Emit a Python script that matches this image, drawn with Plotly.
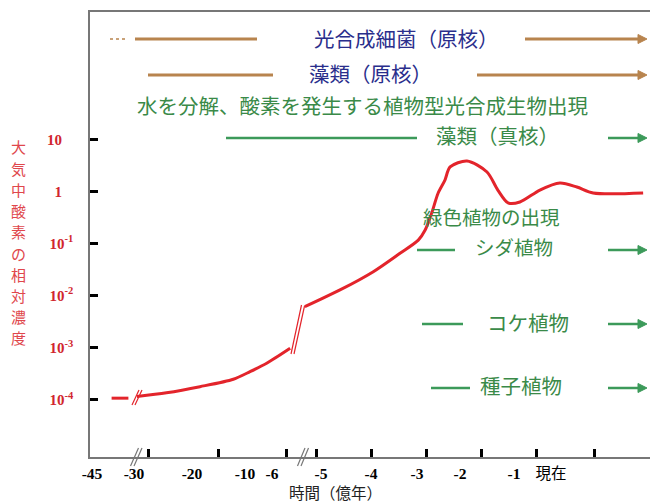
import numpy as np
import plotly.graph_objects as go

# ---- axis definitions (time in 100 million years; labels as printed) ----
TICK_TIMES = [-45, -30, -20, -10, -6, -5, -4, -3, -2, -1, 0]
TICK_LABELS = ["-45", "-30", "-20", "-10", "-6", "-5", "-4", "-3", "-2", "-1", "現在"]
AXIS_POS = [2, 44, 102, 155, 182, 231, 281, 327, 370, 424, 461]   # broken, non-linear display scale
TICK_MARK_POS = [58, 128, 196, 226, 281, 336, 391, 446, 504]

Y_TICK_VALS = [1e-4, 1e-3, 1e-2, 1e-1, 1, 10]
Y_TICK_TEXT = ["10<sup>-4</sup>", "10<sup>-3</sup>", "10<sup>-2</sup>", "10<sup>-1</sup>", "1", "10"]

# ---- relative O2 concentration curve (three pieces separated by axis breaks) ----
seg_a_time = [-38.0, -32.0]
seg_a_o2 = [1.07e-4, 1.07e-4]

seg_b_time = [-29.5, -24.4, -18.5, -12.2, -9.26, -6.79, -5.63]
seg_b_o2 = [1.15e-4, 1.36e-4, 1.78e-4, 2.47e-4, 3.45e-4, 5.0e-4, 9.7e-4]

seg_c_time = [-5.33, -4.62, -3.95, -3.37, -2.97, -2.81, -2.66, -2.51, -2.35, -2.23,
              -1.87, -1.5, -1.3, -1.11, -0.84, -0.3, 0.24, 0.7, 1.14, 2.49]
seg_c_o2 = [6.1e-3, 1.28e-2, 2.87e-2, 6.47e-2, 0.116, 0.181, 0.379, 0.92, 1.65, 2.94,
            3.83, 2.35, 1.06, 0.60, 0.625, 1.06, 1.45, 1.21, 0.93, 0.93]

Y_TITLE = "大気中酸素の相対濃度"
X_TITLE = "時間（億年）"


def to_pos(t):
    t = np.asarray(t, dtype=float)
    pos = np.interp(t, TICK_TIMES, AXIS_POS)
    slope = (AXIS_POS[-1] - AXIS_POS[-2]) / (TICK_TIMES[-1] - TICK_TIMES[-2])
    beyond = t > TICK_TIMES[-1]
    pos[beyond] = AXIS_POS[-1] + (t[beyond] - TICK_TIMES[-1]) * slope
    return pos


# layout helpers (pixel -> paper)
L, T, W, H = 90, 12, 560, 445
def X(px):
    return (px - L) / W
def Y(py):
    return (T + H - py) / H

RED = "#e3242b"
BROWN = "#b8844e"
GREEN_LINE = "#3c9a5a"
GREEN_TEXT = "#3a8a48"
NAVY = "#2a2e8c"
JP = "Noto Sans CJK JP"
FS = 20.5

fig = go.Figure()
for tt, vv in [(seg_a_time, seg_a_o2), (seg_b_time, seg_b_o2), (seg_c_time, seg_c_o2)]:
    fig.add_trace(go.Scatter(x=to_pos(tt), y=vv, mode="lines",
                             line=dict(color=RED, width=3, shape="spline", smoothing=0.8),
                             hoverinfo="skip"))

shapes = []
def hline(x0, x1, y, color, width=2.5, dash="solid"):
    shapes.append(dict(type="line", xref="paper", yref="paper", x0=X(x0), x1=X(x1),
                       y0=Y(y), y1=Y(y), line=dict(color=color, width=width, dash=dash)))

def seg(x0, y0, x1, y1, color, width=1.2):
    shapes.append(dict(type="line", xref="paper", yref="paper", x0=X(x0), x1=X(x1),
                       y0=Y(y0), y1=Y(y1), line=dict(color=color, width=width)))

def arrow(x0, x1, y, color, width=2.5):
    hline(x0, x1 - 4, y, color, width)
    head = 9
    half = 4.5
    path = "M {:.5f},{:.5f} L {:.5f},{:.5f} L {:.5f},{:.5f} Z".format(
        X(x1), Y(y), X(x1 - head), Y(y - half), X(x1 - head), Y(y + half))
    shapes.append(dict(type="path", xref="paper", yref="paper", path=path,
                       fillcolor=color, line=dict(color=color, width=1)))

annotations = []
def text(s, cx, cy, color, size=FS):
    annotations.append(dict(text=s, x=X(cx), y=Y(cy), xref="paper", yref="paper",
                            xanchor="center", yanchor="middle", showarrow=False,
                            font=dict(family=JP, size=size, color=color)))

# top rows
hline(110, 126, 39, BROWN, width=1.5, dash="dot")
hline(135, 257, 39, BROWN, width=3)
text("光合成細菌（原核）", 406, 38, NAVY)
arrow(525, 647, 39, BROWN, width=3)

hline(148, 273, 75, BROWN, width=3)
text("藻類（原核）", 370, 73, NAVY)
arrow(477, 647, 75, BROWN, width=3)

text("水を分解、酸素を発生する植物型光合成生物出現", 362, 105, GREEN_TEXT)

hline(226, 417, 138, GREEN_LINE)
text("藻類（真核）", 497, 135, GREEN_TEXT)
arrow(608, 647, 138, GREEN_LINE)

text("緑色植物の出現", 491, 216, GREEN_TEXT, size=19.5)

hline(417, 455, 250, GREEN_LINE)
text("シダ植物", 514, 247, GREEN_TEXT, size=19.5)
arrow(608, 647, 250, GREEN_LINE)

hline(422, 463, 324, GREEN_LINE)
text("コケ植物", 528, 322, GREEN_TEXT)
arrow(608, 647, 324, GREEN_LINE)

hline(431, 470, 388, GREEN_LINE)
text("種子植物", 521, 385, GREEN_TEXT)
arrow(608, 647, 388, GREEN_LINE)

# break marks on curve
seg(132, 405, 139, 390, RED)
seg(135, 405, 142, 390, RED)
seg(291, 354, 301.5, 305, RED)
seg(294, 354, 304.5, 306, RED)
# break marks on x axis
seg(130.5, 466, 138.5, 448, "#777")
seg(134, 466, 142, 448, "#777")
seg(297.5, 466, 305, 448, "#777")
seg(301, 466, 308.5, 448, "#777")

# y title: upright characters stacked vertically
for i, ch in enumerate(Y_TITLE):
    annotations.append(dict(text=ch, x=X(18), y=Y(147 + i * 21.2), xref="paper", yref="paper",
                            xanchor="center", yanchor="middle", showarrow=False,
                            font=dict(family=JP, size=15, color="#e0474c")))
annotations.append(dict(text=X_TITLE, x=X(335), y=Y(491.5), xref="paper", yref="paper",
                        xanchor="center", yanchor="middle", showarrow=False,
                        font=dict(family=JP, size=15.5, color="#222")))

x_ticktext = [s if not s.lstrip("-").isdigit() else "<b>" + s + "</b>" for s in TICK_LABELS]
# visually left-align the short y labels like the reference
y_ticktext = [s if s.startswith("10<") else s + "&nbsp;&nbsp;&nbsp;" for s in Y_TICK_TEXT]

fig.update_layout(
    width=650, height=502,
    margin=dict(l=L, r=650 - L - W, t=T, b=502 - T - H, autoexpand=False),
    plot_bgcolor="white", paper_bgcolor="white", showlegend=False,
    shapes=shapes, annotations=annotations,
    xaxis=dict(range=[0, W], tickmode="array", tickvals=to_pos(TICK_TIMES), ticktext=x_ticktext,
               ticks="", showline=True, linecolor="#777", linewidth=1.5, mirror=True,
               showgrid=False, zeroline=False, ticklabelstandoff=2, automargin=False,
               tickfont=dict(family="Liberation Serif, Noto Sans CJK JP", size=15.5, color="black"),
               minor=dict(tickmode="array", tickvals=TICK_MARK_POS, ticks="inside", ticklen=8,
                          tickwidth=3, tickcolor="black", showgrid=False)),
    yaxis=dict(type="log", range=[-5.1, 3.443], tickmode="array", tickvals=Y_TICK_VALS,
               ticktext=y_ticktext, ticks="inside", ticklen=8, tickwidth=3, tickcolor="black",
               showline=True, linecolor="#777", linewidth=1.5, showgrid=False, zeroline=False,
               ticklabelstandoff=12, automargin=False,
               tickfont=dict(family="Liberation Serif", size=15, color="#d1262e", weight="bold")),
)

fig.write_html("out.html", config={"displayModeBar": False},
               post_script="document.body.style.margin='0';document.body.style.padding='0';")
